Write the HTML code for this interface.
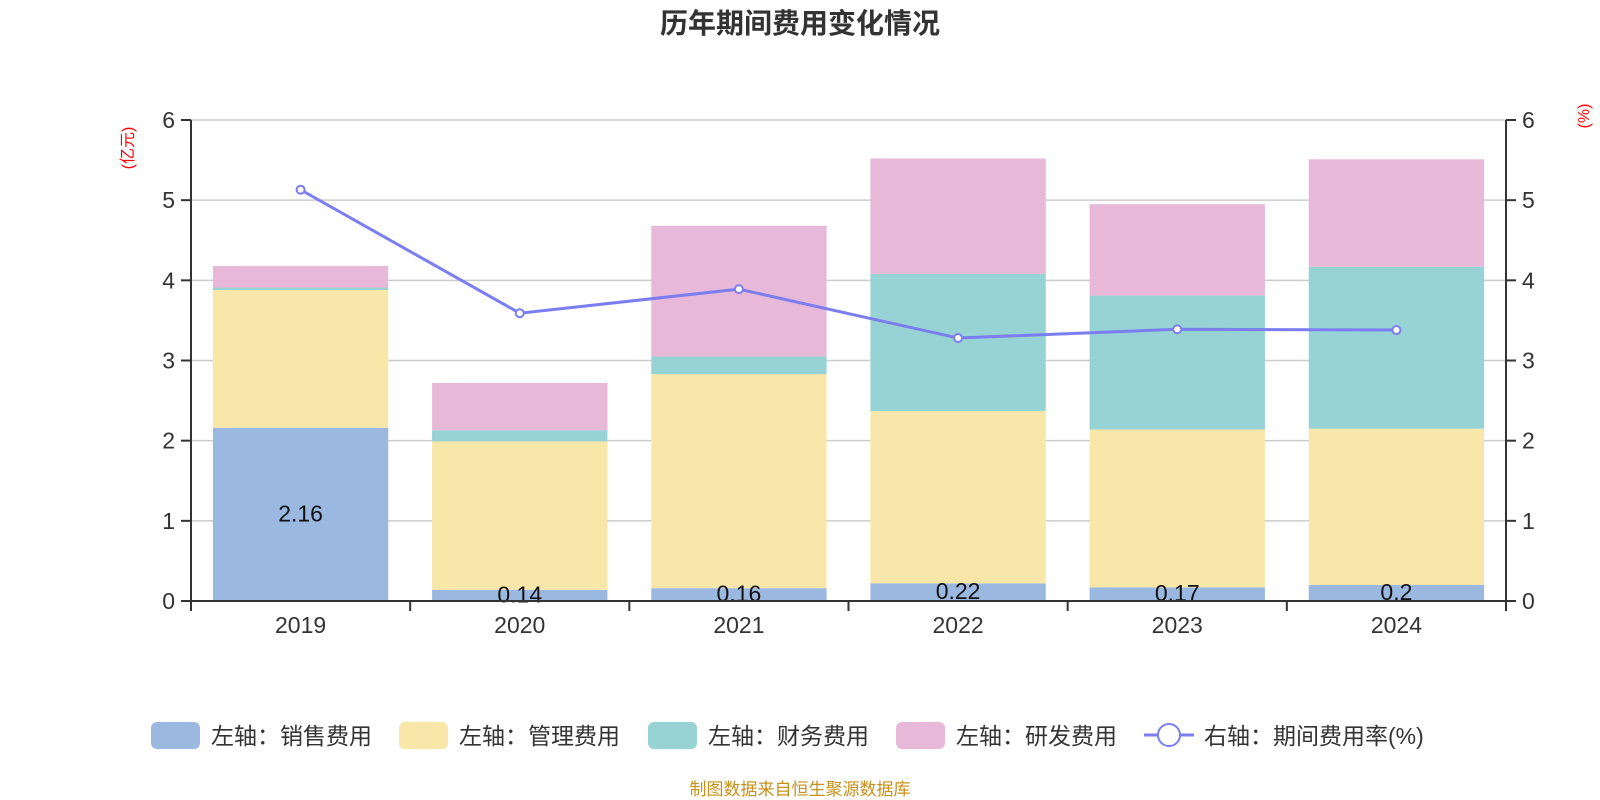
<!DOCTYPE html>
<html><head><meta charset="utf-8"><style>
body{margin:0;background:#fff;}
svg{display:block;font-family:"Liberation Sans","Noto Sans CJK SC",sans-serif;}
</style></head><body>
<svg id="chart" width="1600" height="800">
<text x="800" y="33" text-anchor="middle" font-size="28" font-weight="bold" fill="#333">历年期间费用变化情况</text>
<text transform="translate(133,148) rotate(-90)" text-anchor="middle" font-size="16" fill="#f00">(亿元)</text>
<text transform="translate(1589,116) rotate(-90)" text-anchor="middle" font-size="16" fill="#f00">(%)</text>
<g id="grid"></g><g id="bars"></g><g id="axes"></g><g id="line"></g><g id="legend"></g>
<text x="800" y="795" text-anchor="middle" font-size="17" fill="#c8901a">制图数据来自恒生聚源数据库</text>
</svg>
<script>
const categories=["2019","2020","2021","2022","2023","2024"];
const sales=[2.16,0.14,0.16,0.22,0.17,0.2];
const mgmt=[1.72,1.85,2.67,2.15,1.97,1.95];
const fin=[0.03,0.14,0.22,1.71,1.67,2.02];
const rd=[0.27,0.59,1.63,1.44,1.14,1.34];
const rate=[5.13,3.59,3.89,3.28,3.39,3.38];
const leftTicks=[0,1,2,3,4,5,6];
const rightTicks=[0,1,2,3,4,5,6];
const seriesNames=["左轴：销售费用","左轴：管理费用","左轴：财务费用","左轴：研发费用"];
const colors=["#9bb8e1","#f8e7a9","#97d3d4","#e7b8d8"];
const NS="http://www.w3.org/2000/svg";
const X0=191,X1=1506,Y0=601,Y1=120;
const band=(X1-X0)/categories.length;
const yL=v=>Y0-(v/6)*(Y0-Y1);
const yR=v=>Y0-(v/6)*(Y0-Y1);
const xC=i=>X0+band*(i+0.5);
function mk(tag,attrs,parent,text){const e=document.createElementNS(NS,tag);for(const k in attrs)e.setAttribute(k,attrs[k]);if(text!==undefined)e.textContent=text;document.getElementById(parent).appendChild(e);return e;}
leftTicks.forEach(t=>{
  if(t>0){const g=mk('line',{x1:X0,x2:X1,y1:yL(t),y2:yL(t),stroke:'#ccc','stroke-width':1.5},'grid');
  
  }
  const l=mk('text',{x:X0-16,y:yL(t)+8,'text-anchor':'end','font-size':23,fill:'#333'},'axes',String(t));
  
  
  mk('line',{x1:X0-10,x2:X0,y1:yL(t),y2:yL(t),stroke:'#333','stroke-width':2},'axes');
});
rightTicks.forEach(t=>{
  const l=mk('text',{x:X1+16,y:yR(t)+8,'font-size':23,fill:'#333'},'axes',String(t));
  
  
  mk('line',{x1:X1,x2:X1+10,y1:yR(t),y2:yR(t),stroke:'#333','stroke-width':2},'axes');
});
mk('line',{x1:X0,x2:X0,y1:Y1,y2:Y0+10,stroke:'#333','stroke-width':2},'axes');
mk('line',{x1:X1,x2:X1,y1:Y1,y2:Y0+10,stroke:'#333','stroke-width':2},'axes');
mk('line',{x1:X0,x2:X1,y1:Y0,y2:Y0,stroke:'#333','stroke-width':2},'axes');
for(let i=0;i<=categories.length;i++)mk('line',{x1:X0+band*i,x2:X0+band*i,y1:Y0,y2:Y0+10,stroke:'#333','stroke-width':2},'axes');
const series=[sales,mgmt,fin,rd];
const bw=band*0.8;
categories.forEach((c,i)=>{
  let acc=0;
  series.forEach((s,k)=>{
    const r=mk('rect',{x:xC(i)-bw/2,y:yL(acc+s[i]),width:bw,height:yL(acc)-yL(acc+s[i]),fill:colors[k]},'bars');
    
    
    acc+=s[i];
  });
  const lb=mk('text',{x:xC(i),y:(yL(0)+yL(sales[i]))/2+7,'text-anchor':'middle','font-size':23,fill:'#111'},'bars',String(sales[i]));
  
  
  const xl=mk('text',{x:xC(i),y:Y0+32,'text-anchor':'middle','font-size':23,fill:'#333'},'axes',c);
  
  
});
const pl=mk('polyline',{points:rate.map((v,i)=>xC(i)+','+yR(v)).join(' '),fill:'none',stroke:'#7b7ef0','stroke-width':3},'line');


rate.forEach((v,i)=>{const p=mk('circle',{cx:xC(i),cy:yR(v),r:4,fill:'#fff',stroke:'#7b7ef0','stroke-width':2},'line');

});
const lx=[151,399,648,896];
seriesNames.forEach((n,k)=>{
  const r=mk('rect',{x:lx[k],y:722,width:49,height:27,rx:6,fill:colors[k]},'legend');
  
  
  const t=mk('text',{x:lx[k]+60,y:744,'font-size':23,fill:'#333'},'legend',n);
  
  
});
mk('line',{x1:1144,x2:1194,y1:735,y2:735,stroke:'#7b7ef0','stroke-width':3},'legend');
const lc=mk('circle',{cx:1169,cy:735,r:11,fill:'#fff',stroke:'#7b7ef0','stroke-width':2},'legend');


const lt=mk('text',{x:1204,y:744,'font-size':23,fill:'#333'},'legend','右轴：期间费用率(%)');


</script>
</body></html>
